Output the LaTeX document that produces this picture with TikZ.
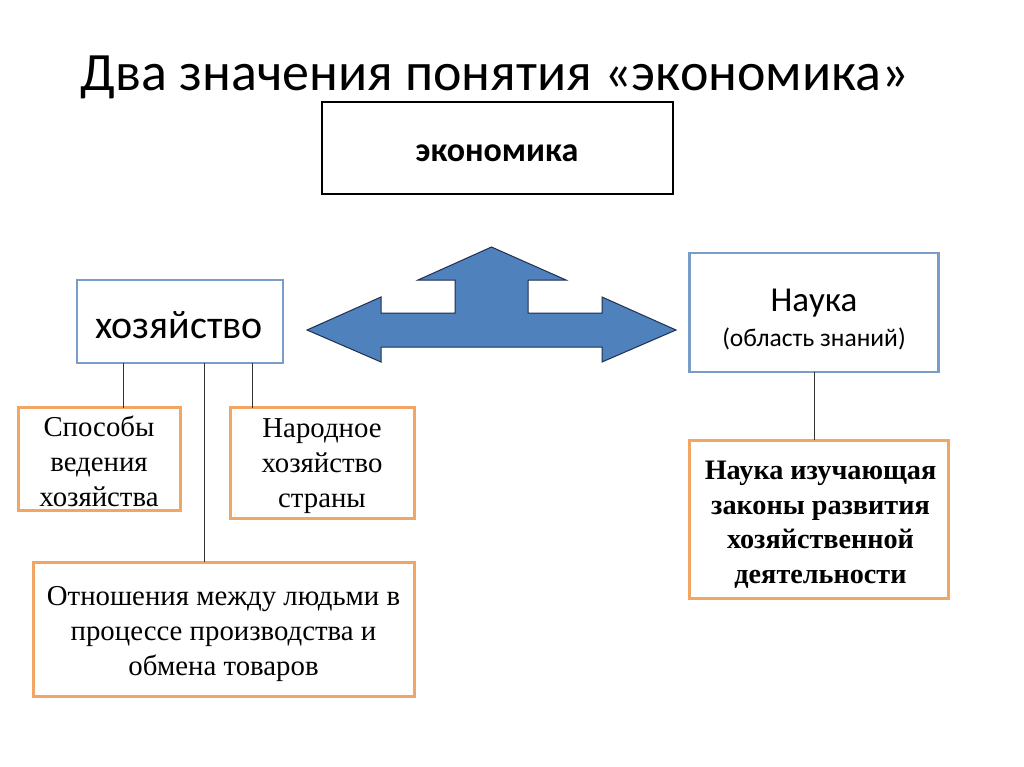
\documentclass[tikz,border=0pt]{standalone}
\usepackage{fontspec}
\setmainfont{Liberation Serif}
\newfontfamily\carlitofont{Carlito}
\definecolor{bluebox}{HTML}{7A9CC8}
\definecolor{orangebox}{HTML}{F2A666}
\definecolor{arrowfill}{HTML}{4F81BD}
\definecolor{arrowline}{HTML}{1F2F4F}
\tikzset{
  bbox/.style={draw=bluebox, line width=2.5pt, fill=white},
  obox/.style={draw=orangebox, line width=3pt, fill=white},
  conn/.style={draw=black!80, line width=1pt},
  sertxt/.style={font=\fontsize{28.8}{35}\selectfont, align=center},
}
\begin{document}
\begin{tikzpicture}[x=1pt,y=-1pt]
\useasboundingbox (0,0) rectangle (1024,767);
\fill[white] (0,0) rectangle (1024,767);
% title
\node[font=\carlitofont\fontsize{54}{60}\selectfont] (title) at (495,77) {Два значения понятия «экономика»};
% top box
\draw[black, line width=2.5pt] (322,102) rectangle (673,194);
\node[font=\carlitofont\bfseries\fontsize{34}{40}\selectfont] (econ) at (497,153) {экономика};
% arrow
\draw[fill=arrowfill, draw=arrowline, line width=1pt, line join=miter]
  (307,330) -- (381,297) -- (381,313) -- (455,313) -- (455,280) -- (418,280)
  -- (491.5,247) -- (566,280) -- (528,280) -- (528,313) -- (602,313) -- (602,297)
  -- (676,330) -- (602,362) -- (602,347) -- (381,347) -- (381,362) -- cycle;
% хозяйство
\draw[bbox] (77,280) rectangle (283,363);
\node[font=\carlitofont\fontsize{40}{46}\selectfont] (hoz) at (179,325) {хозяйство};
\coordinate (hozA) at (123.5,363);
\coordinate (hozB) at (204,363);
\coordinate (hozC) at (252.5,363);
% Способы
\draw[obox] (18.5,407.5) rectangle (180,510);
\node[sertxt] (spos) at (99,461.5) {Способы\\ведения\\хозяйства};
\coordinate (sposT) at (123.5,407.5);
% Народное
\draw[obox] (230,407.5) rectangle (414,518.5);
\node[sertxt] (nar) at (322,466.5) {Народное\\хозяйство\\страны};
\coordinate (narT) at (252.5,407.5);
% Отношения
\draw[obox] (33,562) rectangle (414,696.5);
\node[sertxt] (otn) at (223.5,634.5) {Отношения между людьми в\\процессе производства и\\обмена товаров};
\coordinate (otnT) at (204,562);
% Наука
\draw[bbox] (689.5,253) rectangle (938.5,372);
\node[font=\carlitofont\fontsize{35}{40}\selectfont] (nauka) at (814,303) {Наука};
\node[font=\carlitofont\fontsize{25.5}{30}\selectfont] (obl) at (814,339) {(область знаний)};
\coordinate (naukaB) at (814,372);
% bold box
\draw[obox] (689.5,440) rectangle (948.5,598.5);
\node[font=\bfseries\fontsize{28.2}{34.5}\selectfont, align=center] (zak) at (820.5,524.5) {Наука изучающая\\законы развития\\хозяйственной\\деятельности};
\coordinate (zakT) at (814,440);
% connectors
\draw[conn] (hozA) -- (sposT);
\draw[conn] (hozB) -- (otnT);
\draw[conn] (hozC) -- (narT);
\draw[conn] (naukaB) -- (zakT);
\end{tikzpicture}
\end{document}
